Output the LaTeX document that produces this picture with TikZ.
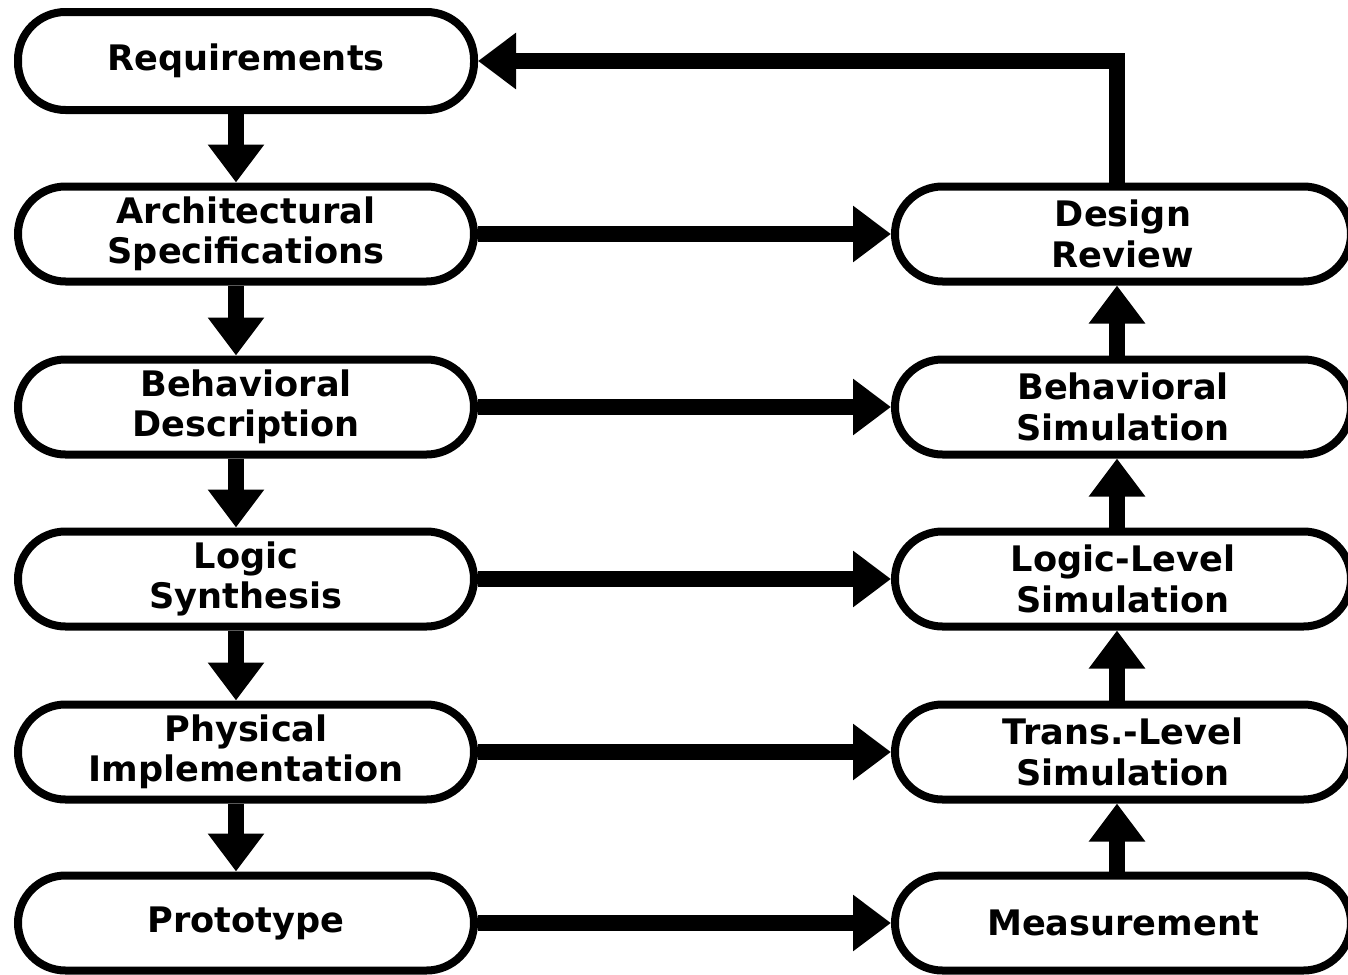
\documentclass[tikz,border=0pt]{standalone}
\usepackage{fontspec}
\setmainfont{DejaVu Sans}
\usetikzlibrary{arrows.meta}

\begin{document}
\begin{tikzpicture}[
    every node/.style={font=\fontsize{20}{23}\selectfont\bfseries},
    stagebox/.style={draw, line width=0.16cm, rounded corners=0.95cm,
      minimum width=9.12cm, minimum height=1.9cm, align=center},
    flow/.style={line width=0.33cm,
      -{Triangle[width=1.08cm, length=0.76cm]}}]
    \useasboundingbox (0, 0) rectangle (26.96, -19.48);
    % design steps
    \node[stagebox, minimum height=1.96cm] (req) at (4.92, -1.22) {Requirements};
    \node[stagebox] (arch) at (4.92, -4.68) {Architectural\\Specifications};
    \node[stagebox] (behdesc) at (4.92, -8.14) {Behavioral\\Description};
    \node[stagebox] (logsyn) at (4.92, -11.58) {Logic\\Synthesis};
    \node[stagebox] (phys) at (4.92, -15.04) {Physical\\Implementation};
    \node[stagebox] (proto) at (4.92, -18.46) {Prototype};
    % verification steps
    \node[stagebox] (review) at (22.46, -4.68) {Design\\Review};
    \node[stagebox] (behsim) at (22.46, -8.14) {Behavioral\\Simulation};
    \node[stagebox] (logsim) at (22.46, -11.58) {Logic-Level\\Simulation};
    \node[stagebox] (transim) at (22.46, -15.04) {Trans.-Level\\Simulation};
    \node[stagebox] (meas) at (22.46, -18.46) {Measurement};
    % down the left side
    \draw[flow] ([xshift=-0.2cm]req.south) -- ([xshift=-0.2cm]arch.north);
    \draw[flow] ([xshift=-0.2cm]arch.south) -- ([xshift=-0.2cm]behdesc.north);
    \draw[flow] ([xshift=-0.2cm]behdesc.south) -- ([xshift=-0.2cm]logsyn.north);
    \draw[flow] ([xshift=-0.2cm]logsyn.south) -- ([xshift=-0.2cm]phys.north);
    \draw[flow] ([xshift=-0.2cm]phys.south) -- ([xshift=-0.2cm]proto.north);
    % across
    \draw[flow] (arch.east) -- (review.west);
    \draw[flow] (behdesc.east) -- (behsim.west);
    \draw[flow] (logsyn.east) -- (logsim.west);
    \draw[flow] (phys.east) -- (transim.west);
    \draw[flow] (proto.east) -- (meas.west);
    % up the right side
    \draw[flow] ([xshift=-0.12cm]meas.north) -- ([xshift=-0.12cm]transim.south);
    \draw[flow] ([xshift=-0.12cm]transim.north) -- ([xshift=-0.12cm]logsim.south);
    \draw[flow] ([xshift=-0.12cm]logsim.north) -- ([xshift=-0.12cm]behsim.south);
    \draw[flow] ([xshift=-0.12cm]behsim.north) -- ([xshift=-0.12cm]review.south);
    % back to the start
    \draw[flow] ([xshift=-0.12cm]review.north) |- (req.east);
  \end{tikzpicture}
\end{document}
